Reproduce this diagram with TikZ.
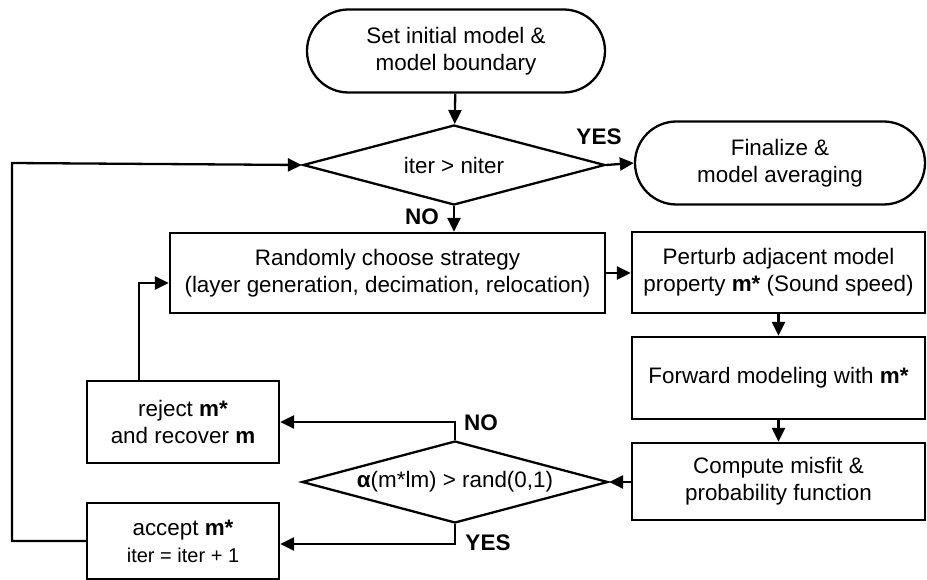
\documentclass[tikz,border=0pt]{standalone}
\usepackage{fontspec}
\setmainfont{Liberation Sans}
\usetikzlibrary{shapes.misc,shapes.geometric,arrows.meta}

\tikzset{
  base/.style={draw=black, line width=2.3pt, inner sep=0pt, align=center,
    font=\fontsize{22.4}{27}\selectfont},
  terminal/.style={base, rounded rectangle},
  procbox/.style={base, rectangle},
  decision/.style={base, diamond, aspect=3.8},
  link/.style={line width=2.3pt, -{Triangle[length=14pt,width=13pt]}},
  answer/.style={font=\fontsize{22.5}{24}\selectfont\bfseries}
}

\begin{document}
\begin{tikzpicture}[x=1pt, y=-1pt]
\useasboundingbox (0,0) rectangle (927,580);

% start / end terminals
\node[terminal, minimum width=298pt, minimum height=83pt] (start) at (456,51)
  {Set initial model \&\\model boundary};
\node[terminal, minimum width=290pt, minimum height=83pt] (fin) at (780,163)
  {Finalize \&\\model averaging};

% iteration test
\node[decision, minimum width=302pt, minimum height=80pt] (iter) at (454,165)
  {iter > niter};

% process boxes
\node[procbox, minimum width=435pt, minimum height=80pt] (strat) at (387.5,273)
  {Randomly choose strategy\\(layer generation, decimation, relocation)};
\node[procbox, minimum width=293pt, minimum height=81pt] (pert) at (778.5,272.5)
  {Perturb adjacent model\\property \textbf{m*} (Sound speed)};
\node[procbox, minimum width=293pt, minimum height=82pt] (fwd) at (778.5,378)
  {Forward modeling with \textbf{m*}};
\node[procbox, minimum width=293pt, minimum height=77pt] (misfit) at (778.5,481.5)
  {Compute misfit \&\\probability function};

% acceptance test
\node[decision, aspect=3.7, minimum width=306pt, minimum height=82pt] (accp) at (455,482)
  {\textbf{α}(m*lm) > rand(0,1)};

% reject / accept boxes
\node[procbox, minimum width=192pt, minimum height=82pt] (rej) at (183,422)
  {reject \textbf{m*}\\and recover \textbf{m}};
\node[procbox, minimum width=192pt, minimum height=76pt] (acc) at (183,541)
  {accept \textbf{m*}\\{\fontsize{20}{24}\selectfont iter = iter + 1}};

% loop-back corner on the far left
\coordinate (loop) at (12,163);

% connectors
\draw[link] (start) -- (iter);
\draw[link] (iter.east) -- (fin.west);
\draw[link] (iter.south) -- (iter.south |- strat.north);
\draw[link] (strat.east) -- (strat.east -| pert.west);
\draw[link] (pert) -- (fwd);
\draw[link] (fwd) -- (misfit);
\draw[link] (misfit.west |- accp.east) -- (accp.east);
\draw[link] (accp.north) |- (rej.east);
\draw[link] (accp.south) |- ([yshift=-3pt]acc.east);
\draw[link] ([xshift=-44pt]rej.north) |- ([yshift=-10pt]strat.west);
\draw[link] (acc.west) -| (loop) -- (iter.west);

% branch labels
\node[answer] (yes1) at (599,137) {YES};
\node[answer] (no1) at (422,217) {NO};
\node[answer] (no2) at (481,423) {NO};
\node[answer] (yes2) at (488,543) {YES};
\end{tikzpicture}
\end{document}
